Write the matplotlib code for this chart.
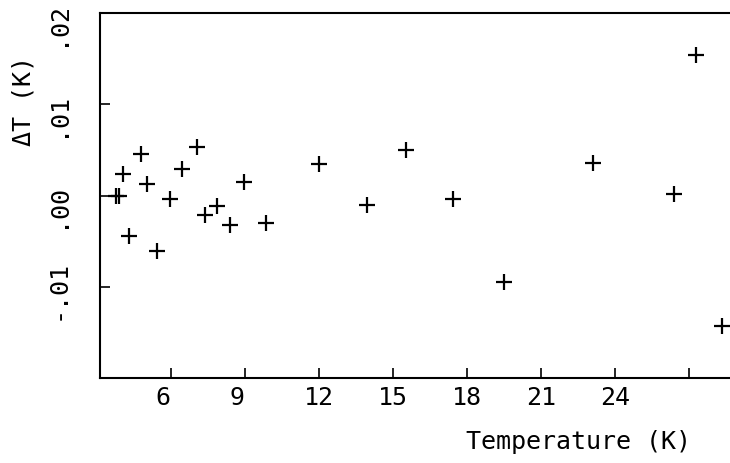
import matplotlib
matplotlib.use("Agg")
import matplotlib.pyplot as plt
from matplotlib.transforms import ScaledTranslation

# Data
temperature = [3.75, 3.9, 4.06, 4.28, 4.78, 5.01, 5.43, 5.95, 6.46, 7.04, 7.39, 7.88,
               8.40, 8.96, 9.85, 11.98, 13.95, 15.54, 17.41, 19.49, 23.09, 26.39,
               27.29, 28.33]
delta_t = [-0.0001, -0.0001, 0.0024, -0.0044, 0.0045, 0.0013, -0.0061, -0.0004,
           0.0029, 0.0053, -0.0021, -0.0011, -0.0032, 0.0015, -0.0030, 0.0035,
           -0.0010, 0.0050, -0.0004, -0.0095, 0.0036, 0.0002, 0.0154, -0.0143]

xticks = [6, 9, 12, 15, 18, 21, 24, 27]
xticklabels = ["6 ", "9 ", "12", "15", "18", "21", "24", ""]
yticks = [-0.01, 0.0, 0.01, 0.02]
yticklabels = ["-.01", ".00", ".01", ".02"]

plt.rcParams['font.family'] = ['DejaVu Sans Mono', 'DejaVu Sans']

fig = plt.figure(figsize=(7.3, 4.63), dpi=100)
ax = fig.add_axes([100 / 730, 85 / 463, 630 / 730, 365 / 463])

ax.plot(temperature, delta_t, linestyle='none', marker='+', markersize=12,
        markeredgewidth=1.6, color='black')

ax.set_xlim(3.12, 28.65)
ax.set_ylim(-0.02, 0.0199)

ax.spines['right'].set_visible(False)
for s in ['left', 'bottom', 'top']:
    ax.spines[s].set_linewidth(1.5)
    ax.spines[s].set_color('black')

ax.set_xticks(xticks)
ax.set_xticklabels(xticklabels)
ax.set_yticks(yticks)

ax.tick_params(axis='both', direction='in', length=7, width=1.2, labelsize=18,
               colors='black')
ax.tick_params(axis='x', pad=6)
ax.tick_params(axis='y', pad=22)

ax.set_yticklabels(yticklabels, rotation=90, va='bottom', ha='right')
shift = ScaledTranslation(0, -33 / 100, fig.dpi_scale_trans)
for lab in ax.yaxis.get_majorticklabels():
    lab.set_transform(lab.get_transform() + shift)

ax.set_xlabel("Temperature (K)", fontsize=18)
ax.xaxis.set_label_coords((578 - 100) / 630, (33 - 85) / 365)
ax.set_ylabel("ΔT (K)", fontsize=18)
ax.yaxis.set_label_coords((36 - 100) / 630, (362 - 85) / 365)

fig.savefig("out.png", dpi=100)
